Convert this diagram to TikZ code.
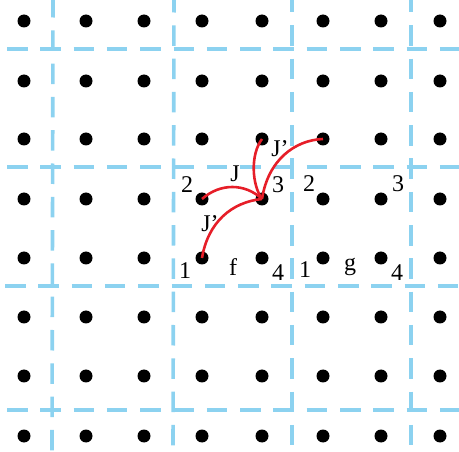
\documentclass[tikz,border=0pt]{standalone}
\usepackage{fontspec}
\setmainfont{Liberation Serif}
\definecolor{gridblue}{RGB}{140,210,240}
\definecolor{arcred}{RGB}{230,30,40}
\begin{document}
\begin{tikzpicture}[x=1pt,y=-1pt,
  dot/.style={circle,fill=black,inner sep=0pt,minimum size=13pt},
  gline/.style={draw=gridblue,line width=3.6pt,dash pattern=on 20.5pt off 12.8pt},
  arc/.style={draw=arcred,line width=2.6pt},
  lbl/.style={anchor=base,inner sep=0pt,font=\fontsize{24}{24}\selectfont}]
\useasboundingbox (0,0) rectangle (459,452);
% dashed grid
\draw[gline] (7,49) -- (459,49);
\draw[gline] (7,167) -- (459,167);
\draw[gline] (5,286) -- (459,286);
\draw[gline] (7,410) -- (459,410);
\draw[gline] (53,-3) -- (52,452);
\draw[gline] (174,-8) -- (173,452);
\draw[gline] (292,-8) -- (292,452);
\draw[gline] (411,-8) -- (411,452);
% dots
\foreach \c/\x in {1/24,2/86,3/144,4/202,5/262,6/323,7/381,8/440}{
  \foreach \r/\y in {1/21,2/81,3/139,4/199,5/258,6/317,7/376,8/436}{
    \node[dot] (d-\c-\r) at (\x,\y) {};
  }
}
% red arcs
\draw[arc] (d-4-5.center) .. controls (208,222) and (232,202) .. (d-5-4.center);
\draw[arc] (d-4-4.center) .. controls (220,183) and (245,183) .. (d-5-4.center);
\draw[arc] (d-5-3.center) .. controls (250,155) and (252,185) .. (d-5-4.center);
\draw[arc] (d-6-3.center) .. controls (295,140) and (268,160) .. (d-5-4.center);
% labels
\node[lbl] (l2a) at (187,193) {2};
\node[lbl] (lJ) at (235,182) {J};
\node[lbl] (l3a) at (278,193) {3};
\node[lbl] (lJt) at (280,157) {J’};
\node[lbl] (lJb) at (210,232) {J’};
\node[lbl] (l2b) at (309,192) {2};
\node[lbl] (l3b) at (398,192) {3};
\node[lbl] (l1a) at (185,279) {1};
\node[lbl] (lf) at (233,276) {f};
\node[lbl] (l4a) at (278,280) {4};
\node[lbl] (l1b) at (305,278) {1};
\node[lbl] (lg) at (350,271) {g};
\node[lbl] (l4b) at (397,280) {4};
\end{tikzpicture}
\end{document}
